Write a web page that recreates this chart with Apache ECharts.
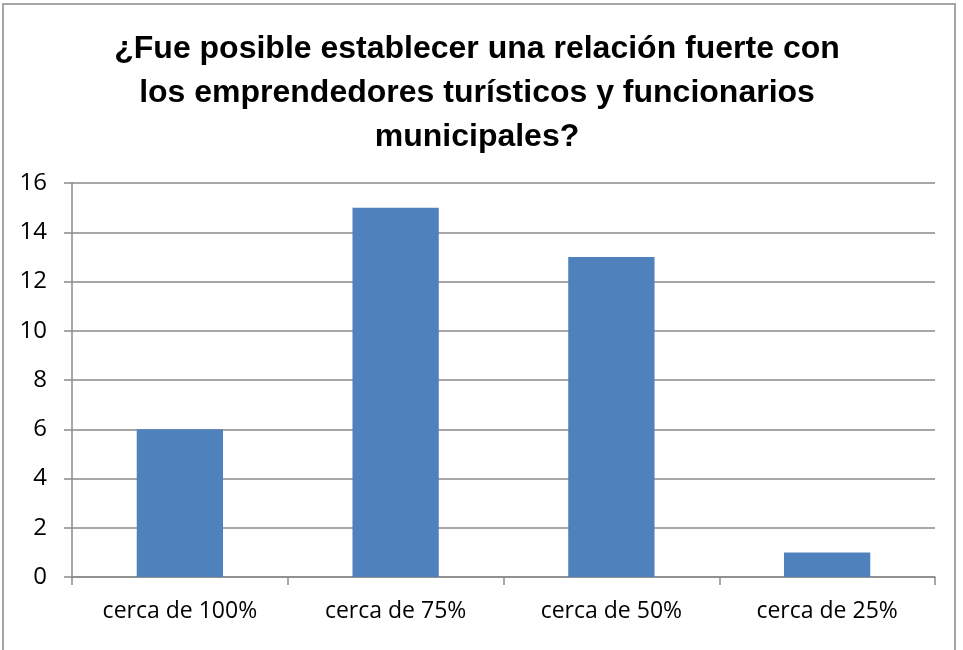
<!DOCTYPE html>
<html>
<head>
<meta charset="utf-8">
<script src="https://cdn.jsdelivr.net/npm/echarts@6/dist/echarts.min.js"></script>
<style>
  html, body { margin: 0; padding: 0; background: #fff; }
  #chart { width: 963px; height: 650px; }
</style>
</head>
<body>
<div id="chart"></div>
<script>
  // datos
  const categorias = ['cerca de 100%', 'cerca de 75%', 'cerca de 50%', 'cerca de 25%'];
  const valores = [6, 15, 13, 1];
  const titulo = '¿Fue posible establecer una relación fuerte con\nlos emprendedores turísticos y funcionarios\nmunicipales?';

  const gris = '#8a8a8a';
  let myChart = echarts.init(document.getElementById('chart'));

  let option = {
    animation: false,
    backgroundColor: '#fff',
    graphic: [{
      type: 'rect',
      shape: { x: 3, y: 4, width: 952, height: 700 },
      style: { fill: 'none', stroke: '#a6a6a6', lineWidth: 2 },
      silent: true
    }],
    title: {
      text: titulo,
      left: 472,
      top: 22,
      textAlign: 'center',
      textStyle: {
        fontFamily: 'Liberation Sans',
        fontWeight: 'bold',
        fontSize: 32,
        lineHeight: 44,
        color: '#000'
      }
    },
    grid: {
      left: 72,
      right: 28,
      top: 183,
      bottom: 73
    },
    xAxis: {
      type: 'category',
      data: categorias,
      axisLine: { lineStyle: { color: gris, width: 1.5 } },
      axisTick: { show: true, length: 8, lineStyle: { color: gris, width: 1.5 } },
      axisLabel: {
        margin: 23,
        fontFamily: 'Open Sans',
        fontSize: 23,
        color: '#000'
      }
    },
    yAxis: {
      type: 'value',
      min: 0,
      max: 16,
      interval: 2,
      axisLine: { show: true, lineStyle: { color: gris, width: 1.5 } },
      axisTick: { show: true, length: 8, lineStyle: { color: gris, width: 1.5 } },
      splitLine: { lineStyle: { color: gris, width: 1.5 } },
      axisLabel: {
        margin: 25,
        fontFamily: 'Open Sans',
        fontSize: 24,
        color: '#000'
      }
    },
    series: [{
      type: 'bar',
      data: valores,
      barWidth: '40%',
      itemStyle: { color: '#4F81BD' }
    }]
  };

  myChart.setOption(option);
</script>
</body>
</html>
